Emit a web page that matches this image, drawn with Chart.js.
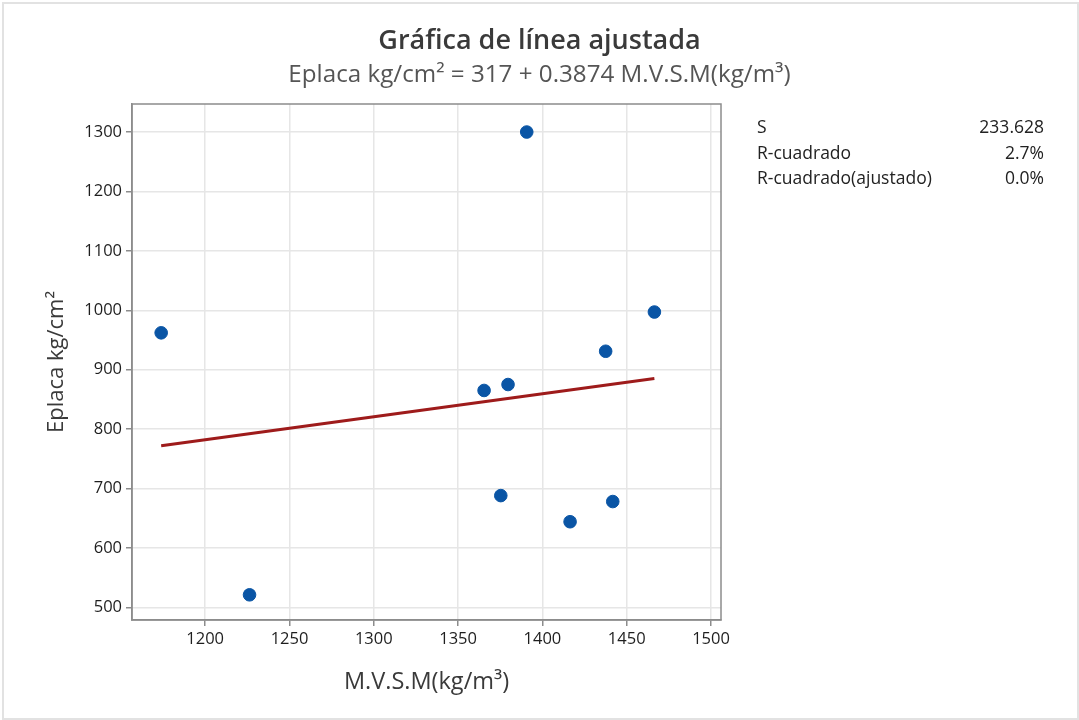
<!DOCTYPE html>
<html lang="es">
<head>
    <meta charset="UTF-8">
    <title>Gráfica de línea ajustada</title>
    <script src="https://cdn.jsdelivr.net/npm/chart.js"></script>
    <style>
        body { margin: 0; background: #fff; font-family: "Open Sans", sans-serif; }
        .wrap { position: relative; width: 1079px; height: 720px; }
        .frame { position: absolute; left: 2px; top: 2px; width: 1073px; height: 714px; border: 2px solid #e2e2e2; }
        canvas { position: absolute; left: 0; top: 0; }
        .title { position: absolute; left: 0; width: 1079px; text-align: center; top: 21px; font-size: 27px; line-height: 36px; font-weight: 600; color: #3a3a3a; }
        .subtitle { position: absolute; left: 0; width: 1079px; text-align: center; top: 57px; font-size: 24.2px; line-height: 32px; color: #555; }
        .stats { position: absolute; left: 757px; top: 113px; width: 287px; font-size: 17.5px; color: #222; }
        .stats div { display: flex; justify-content: space-between; height: 25.7px; line-height: 26px; }
    </style>
</head>
<body>
    <div class="wrap">
        <canvas id="fitChart" width="1079" height="720"></canvas>
        <div class="frame"></div>
        <div class="title">Gráfica de línea ajustada</div>
        <div class="subtitle">Eplaca kg/cm² = 317 + 0.3874 M.V.S.M(kg/m³)</div>
        <div class="stats">
            <div><span>S</span><span>233.628</span></div>
            <div><span>R-cuadrado</span><span>2.7%</span></div>
            <div><span>R-cuadrado(ajustado)</span><span>0.0%</span></div>
        </div>
    </div>

    <script>
        // observed values
        const mvsm = [1173.9, 1226.3, 1365.4, 1375.3, 1379.6, 1390.7, 1416.4, 1437.5, 1441.7, 1466.4];
        const eplaca = [962, 521, 865, 688, 875, 1300, 644, 931, 678, 997];

        // fitted line ends (from the regression shown in the subtitle)
        const fitX = [1173.9, 1466.4];
        const fitY = [771.8, 885.1];

        const xTicks = [1200, 1250, 1300, 1350, 1400, 1450, 1500];
        const yTicks = [500, 600, 700, 800, 900, 1000, 1100, 1200, 1300];

        // box around the plot area
        const plotBox = {
            id: 'plotBox',
            afterDraw(chart) {
                const a = chart.chartArea, c = chart.ctx;
                c.save();
                c.strokeStyle = '#8c8c8c';
                c.lineWidth = 1.5;
                c.strokeRect(a.left, a.top, a.right - a.left, a.bottom - a.top);
                c.restore();
            }
        };

        const tickFont = { family: 'Open Sans', size: 16.5, weight: 500 };

        const ctx = document.getElementById('fitChart').getContext('2d');
        new Chart(ctx, {
            type: 'scatter',
            data: {
                datasets: [
                    {
                        label: 'Ajuste',
                        type: 'line',
                        data: fitX.map((x, i) => ({ x: x, y: fitY[i] })),
                        borderColor: '#9e1b1b',
                        borderWidth: 3,
                        pointRadius: 0,
                        fill: false
                    },
                    {
                        label: 'Datos',
                        data: mvsm.map((x, i) => ({ x: x, y: eplaca[i] })),
                        backgroundColor: '#0a55a5',
                        borderColor: '#0a55a5',
                        pointRadius: 6.3,
                        pointHoverRadius: 6.3
                    }
                ]
            },
            options: {
                responsive: false,
                animation: false,
                layout: { padding: { left: 0, top: 104, right: 358, bottom: 20 } },
                plugins: { legend: { display: false }, tooltip: { enabled: false } },
                scales: {
                    x: {
                        type: 'linear',
                        min: 1156.6,
                        max: 1505.9,
                        afterBuildTicks: s => { s.ticks = xTicks.map(v => ({ value: v })); },
                        afterFit: s => { s.height = 80; },
                        grid: { color: '#e6e6e6', lineWidth: 1.5, tickColor: '#8c8c8c', tickLength: 6 },
                        border: { color: '#8c8c8c', width: 1.5 },
                        ticks: { color: '#1e1e1e', font: tickFont, padding: 3, maxRotation: 0, autoSkip: false, callback: v => String(v) },
                        title: { display: true, text: 'M.V.S.M(kg/m³)', color: '#3a3a3a', font: { family: 'Open Sans', size: 23.5 }, padding: { top: 10 } }
                    },
                    y: {
                        min: 478.6,
                        max: 1347.2,
                        afterBuildTicks: s => { s.ticks = yTicks.map(v => ({ value: v })); },
                        afterFit: s => { s.width = 132; },
                        grid: { color: '#e6e6e6', lineWidth: 1.5, tickColor: '#8c8c8c', tickLength: 6 },
                        border: { color: '#8c8c8c', width: 1.5 },
                        ticks: { color: '#1e1e1e', font: tickFont, padding: 4, callback: v => String(v) },
                        title: { display: true, text: 'Eplaca kg/cm²', color: '#3a3a3a', font: { family: 'Open Sans', size: 22 }, padding: { top: 44 } }
                    }
                }
            },
            plugins: [plotBox]
        });
    </script>
</body>
</html>
